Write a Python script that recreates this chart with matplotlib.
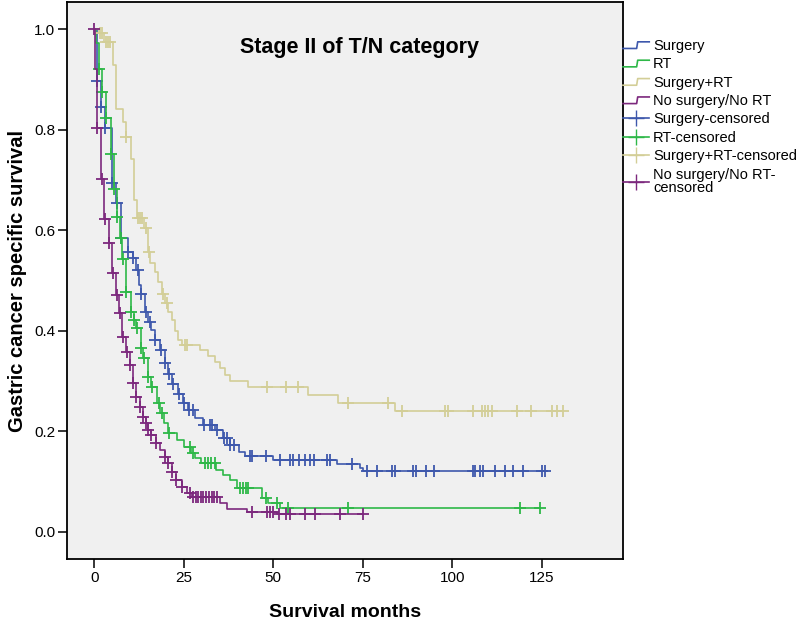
import numpy as np
import matplotlib
matplotlib.use("Agg")
import matplotlib.pyplot as plt
from matplotlib.lines import Line2D
from matplotlib.legend_handler import HandlerBase

plt.rcParams["font.family"] = ["Liberation Sans", "DejaVu Sans"]

# Kaplan-Meier steps (time in months, survival after the drop) and censor times

surg_t = [0, 0.7, 2.0, 3.1, 4.9, 6.2, 7.6, 9.3, 10.9, 11.6, 12.6, 13.2, 14.2, 15.1, 15.8, 17.0,
          18.4, 19.7, 20.7, 21.6, 23.5, 24.9, 26.3, 28.1, 30.4, 33.7, 36.0, 37.9, 40.5, 42.1,
          50.0, 67.9, 74.2, 75.1]
surg_s = [1.0, 0.897, 0.845, 0.803, 0.693, 0.654, 0.584, 0.557, 0.544, 0.521, 0.491, 0.474,
          0.438, 0.418, 0.401, 0.382, 0.362, 0.335, 0.315, 0.295, 0.275, 0.256, 0.242, 0.226,
          0.212, 0.202, 0.186, 0.173, 0.159, 0.151, 0.143, 0.134, 0.127, 0.121]
surg_c = [0.7, 2.0, 3.1, 5.0, 6.3, 7.6, 9.5, 10.9, 12.1, 13.2, 14.5, 15.5, 17.0, 18.6, 19.9,
          21.0, 22.0, 23.8, 25.2, 26.6, 27.5, 30.6, 32.3, 33.0, 34.2, 36.3, 37.2, 38.0, 39.0,
          43.5, 44.0, 48.0, 51.9, 54.7, 55.6, 57.3, 58.9, 60.4, 61.5, 64.9, 65.8, 71.9, 76.3,
          78.9, 83.1, 84.0, 89.1, 89.9, 92.8, 94.9, 105.7, 106.3, 107.7, 108.7, 111.9, 114.7,
          117.0, 119.8, 125.0, 125.9]

rt_t = [0, 0.4, 1.3, 2.3, 3.3, 4.7, 5.6, 6.3, 7.2, 7.9, 9.0, 10.4, 11.2, 11.8, 13.0, 13.5,
        15.1, 15.8, 17.6, 18.5, 19.5, 20.7, 23.0, 25.0, 27.0, 28.1, 29.8, 34.0, 36.0, 38.0,
        39.8, 46.8, 48.6, 51.9]
rt_s = [1.0, 0.973, 0.921, 0.874, 0.823, 0.751, 0.683, 0.626, 0.584, 0.542, 0.478, 0.438,
        0.421, 0.405, 0.365, 0.345, 0.309, 0.289, 0.256, 0.236, 0.216, 0.196, 0.183, 0.169,
        0.156, 0.146, 0.136, 0.124, 0.113, 0.103, 0.088, 0.068, 0.058, 0.047]
rt_c = [1.3, 2.3, 3.3, 4.7, 5.6, 6.3, 7.4, 8.1, 9.0, 10.4, 11.2, 12.0, 13.0, 14.0, 15.1, 16.2,
        18.0, 19.0, 21.0, 26.7, 27.6, 31.0, 31.8, 32.5, 33.7, 40.7, 41.5, 42.3, 43.0, 48.0,
        51.0, 54.0, 70.9, 118.9, 124.6]

combo_t = [0, 1.4, 2.8, 5.3, 6.1, 8.1, 9.0, 10.2, 11.2, 12.0, 13.9, 15.1, 15.6, 17.0, 17.9,
           18.8, 19.7, 20.7, 21.6, 22.5, 23.5, 24.5, 29.5, 31.8, 33.7, 35.1, 36.5, 37.9, 43.0,
           59.8, 68.0, 84.0]
combo_s = [1.0, 0.992, 0.975, 0.929, 0.841, 0.816, 0.786, 0.741, 0.660, 0.624, 0.604, 0.557,
           0.534, 0.517, 0.498, 0.474, 0.455, 0.438, 0.421, 0.400, 0.382, 0.372, 0.362, 0.350,
           0.338, 0.325, 0.312, 0.300, 0.289, 0.273, 0.257, 0.240]
combo_c = [1.7, 2.1, 3.3, 3.9, 4.4, 9.0, 12.3, 12.9, 13.4, 14.6, 15.3, 19.2, 20.2, 25.3, 26.0,
           48.2, 53.7, 57.0, 71.0, 82.0, 85.9, 98.0, 98.9, 105.9, 108.2, 109.1, 110.1, 111.0,
           118.0, 121.9, 128.0, 129.3, 131.0]

none_t = [0, 0.3, 0.8, 1.8, 2.8, 4.0, 5.0, 6.0, 7.0, 7.8, 9.0, 10.0, 10.9, 11.8, 12.8, 13.5,
          14.4, 15.1, 16.0, 17.2, 18.5, 19.7, 20.7, 21.6, 22.8, 24.4, 25.8, 27.2, 35.0, 37.0,
          42.6, 51.0]
none_s = [1.0, 0.92, 0.803, 0.701, 0.622, 0.574, 0.514, 0.471, 0.435, 0.388, 0.358, 0.332,
          0.296, 0.269, 0.249, 0.229, 0.216, 0.202, 0.192, 0.176, 0.162, 0.149, 0.136, 0.119,
          0.103, 0.090, 0.078, 0.070, 0.058, 0.046, 0.040, 0.035]
none_c = [0, 0.8, 2.1, 3.0, 4.2, 5.3, 6.3, 7.2, 8.0, 9.2, 10.0, 10.9, 11.8, 12.8, 13.5, 14.4,
          15.1, 16.0, 17.2, 19.7, 20.7, 21.6, 22.8, 24.4, 26.7, 27.5, 28.3, 29.0, 29.7, 30.5,
          31.2, 32.0, 32.8, 33.5, 34.2, 44.0, 48.2, 49.0, 50.0, 51.5, 53.7, 54.7, 58.9, 61.6,
          68.6, 75.0]

groups = ["Surgery", "RT", "Surgery+RT", "No surgery/No RT"]
colors = ["#3E58AC", "#2EB848", "#D3CE97", "#7C287D"]
series = [(surg_t, surg_s, surg_c), (rt_t, rt_s, rt_c),
          (combo_t, combo_s, combo_c), (none_t, none_s, none_c)]


class StepHandler(HandlerBase):
    def create_artists(self, legend, orig_handle, xdescent, ydescent,
                       width, height, fontsize, trans):
        x0 = -xdescent
        y0 = -ydescent + height * 0.15
        y1 = -ydescent + height * 0.8
        xs = [x0, x0 + width * 0.52, x0 + width * 0.56, x0 + width]
        ys = [y0, y0, y1, y1]
        ln = Line2D(xs, ys, color=orig_handle.get_color(), lw=orig_handle.get_linewidth())
        ln.set_transform(trans)
        return [ln]


fig = plt.figure(figsize=(8, 6.23), dpi=100)
ax = fig.add_axes([67 / 800, 1 - 559 / 623, 556 / 800, 557 / 623])
ax.set_facecolor("#F0F0F0")

step_handles = []
cens_handles = []
for (t, s, c), col, name in zip(series, colors, groups):
    t = np.array(t)
    s = np.array(s)
    c = np.array(c)
    tt = np.append(t, c.max())
    ss = np.append(s, s[-1])
    ln, = ax.step(tt, ss, where="post", color=col, lw=1.2)
    idx = np.searchsorted(t, c, side="right") - 1
    ax.plot(c, s[idx], ls="none", marker="+", ms=9, mew=1.3, color=col)
    step_handles.append(Line2D([], [], color=col, lw=1.2))
    cens_handles.append(Line2D([], [], color=col, lw=1.2, marker="+", ms=12, mew=1.0))

ax.set_xlim(-7.6, 147.7)
ax.set_ylim(-0.054, 1.054)
ax.set_xticks([0, 25, 50, 75, 100, 125])
ax.set_yticks([0.0, 0.2, 0.4, 0.6, 0.8, 1.0])
ax.set_yticklabels(["0.0", "0.2", "0.4", "0.6", "0.8", "1.0"])
ax.tick_params(direction="out", length=6.5, width=1.1, labelsize=11, pad=2, colors="black")
for sp in ax.spines.values():
    sp.set_linewidth(1.3)

ax.set_xlabel("Survival months", fontsize=14, fontweight="bold")
ax.set_ylabel("Gastric cancer specific survival", fontsize=14.5, fontweight="bold")
ax.xaxis.set_label_coords(0.5, -0.08)
ax.yaxis.set_label_coords(-0.072, 0.5)

ax.text((240 - 67) / 556, (559 - 48) / 557, "Stage II of T/N category",
        transform=ax.transAxes, ha="left", va="center", fontsize=15.5, fontweight="bold")

labels = groups + [g + "-censored" for g in groups[:3]] + ["No surgery/No RT-\ncensored"]
hmap = {h: StepHandler() for h in step_handles}
leg = fig.legend(step_handles + cens_handles, labels, loc="upper left",
                 bbox_to_anchor=(623 / 800, 1 - 39 / 623), frameon=False,
                 fontsize=10.5, handlelength=1.8, handletextpad=0.25, labelspacing=0.3,
                 borderpad=0, borderaxespad=0, handler_map=hmap, numpoints=1)
for txt in leg.get_texts()[-1:]:
    txt.set_linespacing(0.95)

fig.savefig("out.png", dpi=100)
